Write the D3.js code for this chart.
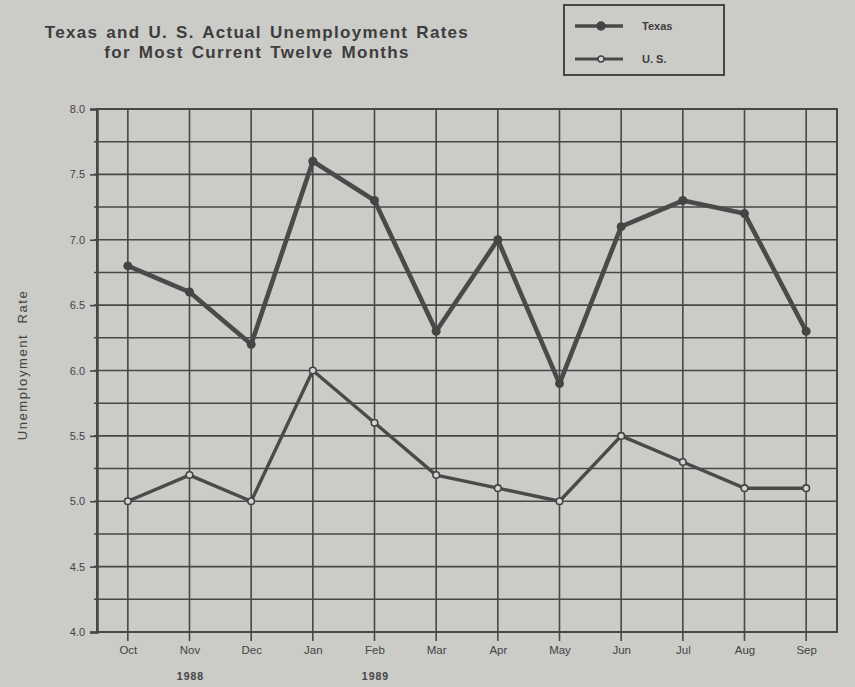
<!DOCTYPE html>
<html>
<head>
<meta charset="utf-8">
<script src="https://cdn.jsdelivr.net/npm/d3@7"></script>
<style>
  html, body { margin: 0; padding: 0; background: #cbcbc8; }
  svg { display: block; }
</style>
</head>
<body>
<svg id="chart" width="855" height="687"></svg>
<script>
const months = ["Oct","Nov","Dec","Jan","Feb","Mar","Apr","May","Jun","Jul","Aug","Sep"];
const texas = [6.8, 6.6, 6.2, 7.6, 7.3, 6.3, 7.0, 5.9, 7.1, 7.3, 7.2, 6.3];
const us    = [5.0, 5.2, 5.0, 6.0, 5.6, 5.2, 5.1, 5.0, 5.5, 5.3, 5.1, 5.1];
const yTicks = [4.0, 4.5, 5.0, 5.5, 6.0, 6.5, 7.0, 7.5, 8.0];
const yGrid = [4.25, 4.5, 4.75, 5.0, 5.25, 5.5, 5.75, 6.0, 6.25, 6.5, 6.75, 7.0, 7.25, 7.5, 7.75];
const yearLabels = [{m: "Nov", t: "1988"}, {m: "Feb", t: "1989"}];
const titleLines = ["Texas and U. S. Actual Unemployment Rates", "for Most Current Twelve Months"];

const ink = "#474747";
const svg = d3.select("#chart");
const pL = 97, pR = 837, pT = 109, pB = 632;

const x = d3.scalePoint().domain(months).range([pL, pR]).padding(0.5);
const y = d3.scaleLinear().domain([4, 8]).range([pB, pT]);

// title
svg.append("g").selectAll("text").data(titleLines).join("text")
  .attr("x", 257).attr("y", (d, i) => 38 + i * 20)
  .attr("text-anchor", "middle")
  .attr("font-family", "Liberation Sans, Arial, sans-serif")
  .attr("font-weight", "bold").attr("font-size", 17)
  .attr("letter-spacing", 1.3).attr("word-spacing", 2)
  .attr("fill", "#3d3d3d").text(d => d);

// grid horizontal
const g = svg.append("g");
g.selectAll("line.h").data(yGrid).join("line")
  .attr("x1", pL - 3).attr("x2", pR)
  .attr("y1", d => y(d)).attr("y2", d => y(d))
  .attr("stroke", ink).attr("stroke-width", 1.6);
// grid vertical
g.selectAll("line.v").data(months).join("line")
  .attr("x1", d => x(d)).attr("x2", d => x(d))
  .attr("y1", pT).attr("y2", pB + 9)
  .attr("stroke", ink).attr("stroke-width", 1.6);

// frame
g.append("rect").attr("x", pL).attr("y", pT)
  .attr("width", pR - pL).attr("height", pB - pT)
  .attr("fill", "none").attr("stroke", ink).attr("stroke-width", 2);

// y axis
const yAxis = d3.axisLeft(y).tickValues(yTicks).tickFormat(d3.format(".1f")).tickSize(7).tickPadding(5);
const ya = svg.append("g").attr("transform", `translate(${pL},0)`).call(yAxis);
ya.select(".domain").attr("stroke", ink).attr("stroke-width", 2.5);
ya.selectAll(".tick line").attr("stroke", ink).attr("stroke-width", 1.6);
ya.selectAll(".tick text").attr("font-family", "Liberation Sans, Arial, sans-serif").attr("font-size", 11)
  .attr("fill", "#444");

// x axis
const xAxis = d3.axisBottom(x).tickSize(0).tickPadding(14);
const xa = svg.append("g").attr("transform", `translate(0,${pB})`).call(xAxis);
xa.select(".domain").remove();
xa.selectAll(".tick text").attr("font-family", "Liberation Sans, Arial, sans-serif").attr("font-size", 11.5)
  .attr("fill", "#444");

// year labels
svg.append("g").selectAll("text").data(yearLabels).join("text")
  .attr("x", d => x(d.m) + 1).attr("y", 680)
  .attr("text-anchor", "middle")
  .attr("font-family", "Liberation Sans, Arial, sans-serif")
  .attr("font-weight", "bold").attr("font-size", 10.5).attr("letter-spacing", 1)
  .attr("fill", "#444").text(d => d.t);

// y label
svg.append("text")
  .attr("transform", `translate(27,${365}) rotate(-90)`)
  .attr("text-anchor", "middle")
  .attr("font-family", "Liberation Sans, Arial, sans-serif")
  .attr("font-size", 13).attr("fill", "#444")
  .attr("letter-spacing", 1.6).attr("word-spacing", 5)
  .text("Unemployment Rate");

// lines
const line = d3.line().x((d, i) => x(months[i])).y(d => y(d));
svg.append("path").datum(texas).attr("d", line)
  .attr("fill", "none").attr("stroke", "#4a4a4a").attr("stroke-width", 4.6)
  .attr("stroke-linejoin", "round");
svg.append("path").datum(us).attr("d", line)
  .attr("fill", "none").attr("stroke", "#4a4a4a").attr("stroke-width", 3.4)
  .attr("stroke-linejoin", "round");

svg.append("g").selectAll("circle").data(texas).join("circle")
  .attr("cx", (d, i) => x(months[i])).attr("cy", d => y(d)).attr("r", 4.5)
  .attr("fill", "#444");
svg.append("g").selectAll("circle").data(us).join("circle")
  .attr("cx", (d, i) => x(months[i])).attr("cy", d => y(d)).attr("r", 3.3)
  .attr("fill", "#d4d4d2").attr("stroke", "#444").attr("stroke-width", 1.6);

// legend
const lg = svg.append("g");
lg.append("rect").attr("x", 564).attr("y", 5).attr("width", 160).attr("height", 70)
  .attr("fill", "none").attr("stroke", ink).attr("stroke-width", 2);
const legendItems = [{t: "Texas", yy: 26, filled: true}, {t: "U. S.", yy: 59, filled: false}];
legendItems.forEach(it => {
  lg.append("line").attr("x1", 575).attr("x2", 623).attr("y1", it.yy).attr("y2", it.yy)
    .attr("stroke", "#4a4a4a").attr("stroke-width", it.filled ? 3.5 : 3);
  lg.append("circle").attr("cx", 601).attr("cy", it.yy).attr("r", it.filled ? 4 : 3)
    .attr("fill", it.filled ? "#444" : "#d4d4d2").attr("stroke", "#444").attr("stroke-width", 1.5);
  lg.append("text").attr("x", 642).attr("y", it.yy + 4)
    .attr("font-family", "Liberation Sans, Arial, sans-serif").attr("font-weight", "bold")
    .attr("font-size", 11).attr("fill", "#3d3d3d").text(it.t);
});
</script>
</body>
</html>
